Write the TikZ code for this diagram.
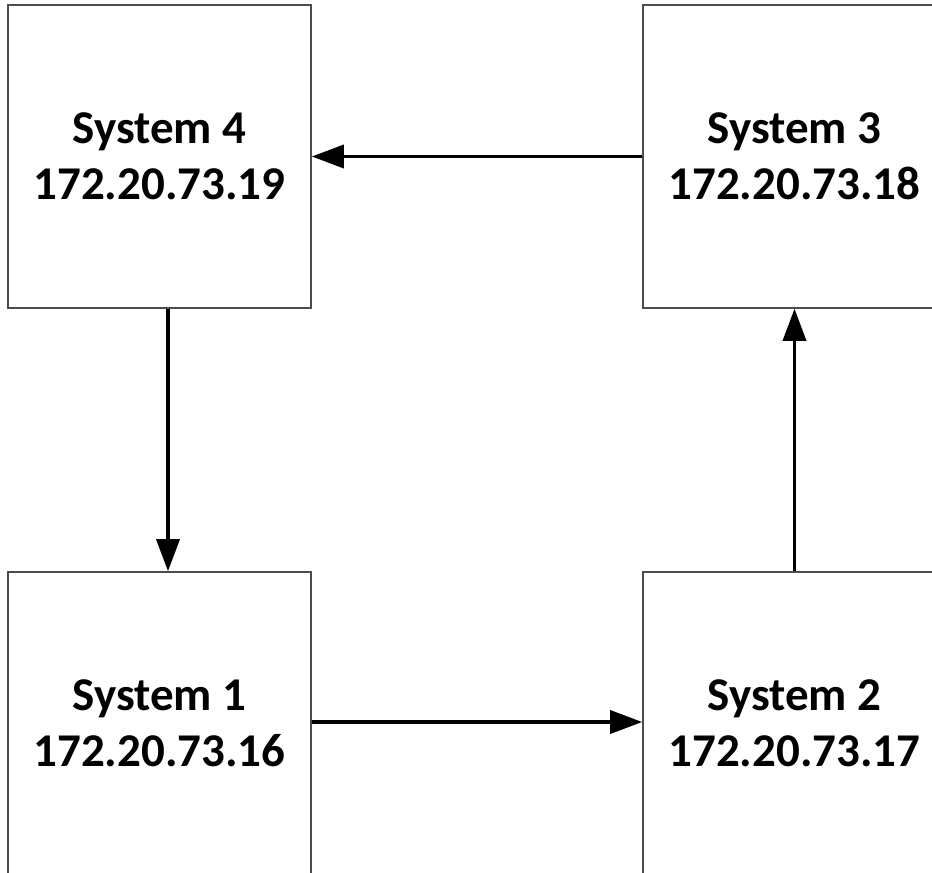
\documentclass[tikz,border=0pt]{standalone}
\usepackage{fontspec}
\setmainfont{Carlito}
\usetikzlibrary{arrows.meta}
\begin{document}
\begin{tikzpicture}[x=1pt,y=1pt,
  sysbox/.style={draw=black!70, line width=1.6pt, fill=white, rectangle,
    minimum width=303pt, minimum height=303pt, inner sep=0pt,
    align=center, font=\fontsize{47}{56}\selectfont\bfseries},
  arr/.style={line width=3.6pt, -{Triangle[length=32pt,width=23pt]}}]
\useasboundingbox (0,0) rectangle (932,-873);
\clip (0,0) rectangle (932,-873);
\fill[white] (0,0) rectangle (932,-873);
\node[sysbox] (S4) at (159.5,-156.5) {System 4\\172.20.73.19};
\node[sysbox] (S3) at (794.5,-156.5) {System 3\\172.20.73.18};
\node[sysbox] (S1) at (159.5,-723.5) {System 1\\172.20.73.16};
\node[sysbox] (S2) at (794.5,-723.5) {System 2\\172.20.73.17};
\draw[arr] (S3.west) -- (S4.east);
\draw[arr] ([xshift=8.5pt]S4.south) -- ([xshift=8.5pt]S1.north);
\draw[arr] ([yshift=1.5pt]S1.east) -- ([yshift=1.5pt]S2.west);
\draw[arr] (S2.north) -- (S3.south);
\end{tikzpicture}
\end{document}
